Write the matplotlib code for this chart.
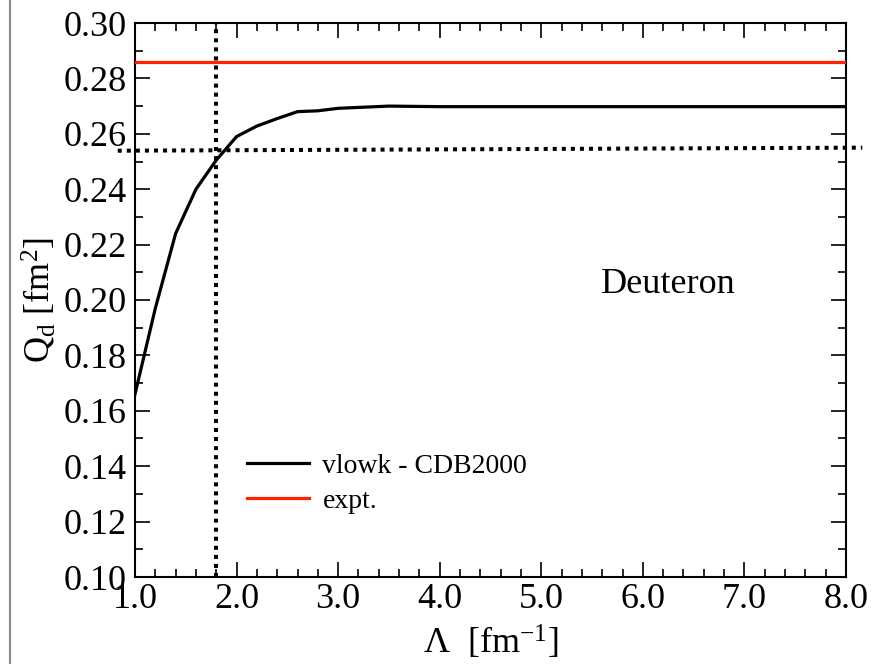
import matplotlib
matplotlib.use("Agg")
import matplotlib.pyplot as plt
from matplotlib.ticker import MultipleLocator, FormatStrFormatter
from matplotlib.lines import Line2D

plt.rcParams['font.family'] = ['Liberation Serif', 'DejaVu Serif']
plt.rcParams['mathtext.fontset'] = 'custom'
plt.rcParams['mathtext.rm'] = 'Liberation Serif'
plt.rcParams['mathtext.it'] = 'Liberation Serif:italic'

# data
lam = [1.0, 1.2, 1.4, 1.6, 1.8, 2.0, 2.2, 2.4, 2.6, 2.8, 3.0, 3.5, 4.0, 5.0, 6.0, 7.0, 8.0]
qd = [0.166, 0.197, 0.224, 0.240, 0.2505, 0.259, 0.2628, 0.2655, 0.268, 0.2683,
      0.2692, 0.2700, 0.2698, 0.2698, 0.2698, 0.2698, 0.2698]
expt_value = 0.286
hdot_x = [0.83, 8.16]
hdot_y = [0.2539, 0.2550]
vdot_x = [1.8, 1.8]
vdot_y = [0.10, 0.30]
xticks = [1.0, 2.0, 3.0, 4.0, 5.0, 6.0, 7.0, 8.0]
yticks = [0.10, 0.12, 0.14, 0.16, 0.18, 0.20, 0.22, 0.24, 0.26, 0.28, 0.30]
series_labels = ['vlowk - CDB2000', 'expt.']

fig = plt.figure(figsize=(8.72, 6.64), dpi=100)
ax = fig.add_axes([135/872, 1-577/664, (846-135)/872, (577-23)/664])

ax.plot(lam, qd, color='black', lw=2.3, solid_joinstyle='miter', zorder=3)
ax.axhline(expt_value, color='#ff2200', lw=2.3, zorder=3)
ax.plot(hdot_x, hdot_y, color='black', lw=2.9, linestyle=(0, (1, 1.25)),
        dash_capstyle='butt', clip_on=False, zorder=4)
ax.plot(vdot_x, vdot_y, color='black', lw=2.9, linestyle=(0, (1, 1.25)),
        dash_capstyle='butt', clip_on=False, zorder=4)

ax.set_xlim(1.0, 8.0)
ax.set_ylim(0.10, 0.30)
ax.set_xticks(xticks)
ax.set_yticks(yticks)
ax.xaxis.set_major_formatter(FormatStrFormatter('%.1f'))
ax.yaxis.set_major_formatter(FormatStrFormatter('%.2f'))
ax.xaxis.set_minor_locator(MultipleLocator(0.2))
ax.yaxis.set_minor_locator(MultipleLocator(0.01))
ax.tick_params(which='both', direction='in', top=True, right=True, width=1.2)
ax.tick_params(which='major', length=10.5, labelsize=26, pad=4)
ax.tick_params(which='minor', length=5.5)
ax.tick_params(axis='y', which='major', pad=6)
for s in ax.spines.values():
    s.set_linewidth(1.5)

ax.set_xlabel(r'$\Lambda$  [fm$^{-1}$]', fontsize=26, labelpad=6)
ax.set_ylabel(r'Q$_{\rm d}$ [fm$^{2}$]', fontsize=26, labelpad=4)

ax.text(6.25, 0.2055, 'Deuteron', fontsize=26, ha='center', va='center')

handles = [Line2D([], [], color='black', lw=2.3), Line2D([], [], color='#ff2200', lw=2.3)]
ax.legend(handles, series_labels, loc='center left', bbox_to_anchor=(0.123, 0.168),
          frameon=False, fontsize=20, handlelength=2.2, handletextpad=0.5,
          labelspacing=0.34)

fig.add_artist(Line2D([0.011, 0.011], [0, 1], transform=fig.transFigure,
                      color='#888888', lw=1.5))

fig.savefig('out.png', dpi=100)
